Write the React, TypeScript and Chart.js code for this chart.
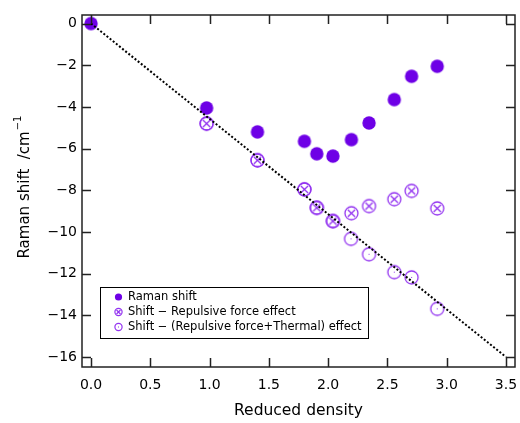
import React, { useEffect, useRef } from "react";
import { Chart, registerables } from "chart.js";

Chart.register(...registerables);

// ---- data ----
const ramanDensity = [0, 0.975, 1.404, 1.8, 1.904, 2.04, 2.196, 2.345, 2.558, 2.704, 2.92];
const ramanShift = [0, -4.05, -5.2, -5.65, -6.25, -6.36, -5.57, -4.77, -3.65, -2.53, -2.05];

const repulsiveDensity = [0.975, 1.404, 1.8, 1.904, 2.04, 2.196, 2.345, 2.558, 2.704, 2.92];
const repulsiveShift = [-4.8, -6.56, -7.96, -8.84, -9.48, -9.1, -8.76, -8.43, -8.03, -8.87];

const thermalDensity = [0.975, 1.404, 1.8, 1.904, 2.04, 2.193, 2.345, 2.558, 2.704, 2.92];
const thermalShift = [-4.8, -6.56, -7.96, -8.84, -9.48, -10.33, -11.07, -11.93, -12.18, -13.69];

const fitDensity = [0, 3.5];
const fitShift = [0, -16];

const xTickValues = [0, 0.5, 1, 1.5, 2, 2.5, 3, 3.5];
const yTickValues = [0, -2, -4, -6, -8, -10, -12, -14, -16];

const legendLabels = [
  "Raman shift",
  "Shift \u2212 Repulsive force effect",
  "Shift \u2212 (Repulsive force+Thermal) effect",
];
const xTitle = "Reduced density";
const yTitleMain = "Raman shift  /cm";
const yTitleSup = "\u22121";

const FILL = "#6e00e6";
const OPEN = "#9333f0";
const FONT = "'DejaVu Sans', sans-serif";

function drawMarker(ctx: CanvasRenderingContext2D, kind: string, cx: number, cy: number, r: number) {
  ctx.save();
  if (kind === "filled") {
    ctx.fillStyle = FILL;
    ctx.beginPath();
    ctx.arc(cx, cy, r, 0, Math.PI * 2);
    ctx.fill();
  } else {
    ctx.strokeStyle = OPEN;
    ctx.lineWidth = r > 5 ? 1.3 : 1.2;
    ctx.beginPath();
    ctx.arc(cx, cy, r, 0, Math.PI * 2);
    ctx.stroke();
    if (kind === "cross") {
      const d = r * 0.55;
      ctx.beginPath();
      ctx.moveTo(cx - d, cy - d);
      ctx.lineTo(cx + d, cy + d);
      ctx.moveTo(cx + d, cy - d);
      ctx.lineTo(cx - d, cy + d);
      ctx.stroke();
    } else {
      ctx.fillStyle = OPEN;
      ctx.fillRect(cx - 0.5, cy - 0.5, 1, 1);
    }
  }
  ctx.restore();
}

function makeMarker(kind: string, r: number): HTMLCanvasElement {
  const size = Math.ceil(2 * r + 4);
  const c = document.createElement("canvas");
  c.width = size;
  c.height = size;
  const ctx = c.getContext("2d")!;
  drawMarker(ctx, kind, size / 2, size / 2, r);
  return c;
}

const framePlugin = {
  id: "frameAndExtras",
  afterDraw(chart: any) {
    const { ctx, chartArea: ca, scales } = chart;
    const xs = scales.x;
    const ys = scales.y;
    ctx.save();
    ctx.strokeStyle = "#222";
    ctx.lineWidth = 1.5;
    ctx.strokeRect(ca.left, ca.top, ca.right - ca.left, ca.bottom - ca.top);
    const tl = 9;
    ctx.beginPath();
    xTickValues.forEach((v) => {
      const px = Math.round(xs.getPixelForValue(v)) + 0.5;
      ctx.moveTo(px, ca.bottom);
      ctx.lineTo(px, ca.bottom - tl);
      ctx.moveTo(px, ca.top);
      ctx.lineTo(px, ca.top + tl);
    });
    yTickValues.forEach((v) => {
      const py = Math.round(ys.getPixelForValue(v)) + 0.5;
      ctx.moveTo(ca.left, py);
      ctx.lineTo(ca.left + tl, py);
      ctx.moveTo(ca.right, py);
      ctx.lineTo(ca.right - tl, py);
    });
    ctx.stroke();

    // y title with superscript
    ctx.fillStyle = "#000";
    ctx.font = `15px ${FONT}`;
    const mainW = ctx.measureText(yTitleMain).width;
    ctx.font = `10px ${FONT}`;
    const supW = ctx.measureText(yTitleSup).width;
    const total = mainW + supW + 1;
    ctx.translate(25, 187);
    ctx.rotate(-Math.PI / 2);
    ctx.textBaseline = "middle";
    ctx.textAlign = "left";
    ctx.font = `15px ${FONT}`;
    ctx.fillText(yTitleMain, -total / 2, 0);
    ctx.font = `10px ${FONT}`;
    ctx.fillText(yTitleSup, -total / 2 + mainW + 1, -7);
    ctx.restore();

    // legend
    ctx.save();
    const lx = ca.left + 18;
    const ly = ca.bottom - 80;
    const lw = 268;
    const lh = 51;
    ctx.fillStyle = "#fff";
    ctx.fillRect(lx, ly, lw, lh);
    ctx.strokeStyle = "#000";
    ctx.lineWidth = 1;
    ctx.strokeRect(lx + 0.5, ly + 0.5, lw, lh);
    const kinds = ["filled", "cross", "open"];
    ctx.font = `11.5px ${FONT}`;
    ctx.fillStyle = "#000";
    ctx.textBaseline = "middle";
    ctx.textAlign = "left";
    legendLabels.forEach((lab, i) => {
      const cy = ly + 10 + i * 15;
      drawMarker(ctx, kinds[i], lx + 18.5, cy, 3.6);
      ctx.fillStyle = "#000";
      ctx.fillText(lab, lx + 28, cy);
    });
    ctx.restore();
  },
};

export default function App() {
  const ref = useRef<HTMLCanvasElement | null>(null);
  useEffect(() => {
    document.body.style.margin = "0";
    const canvas = ref.current!;
    const filledImg = makeMarker("filled", 6.7);
    const crossImg = makeMarker("cross", 6.5);
    const openImg = makeMarker("open", 6.5);
    const toPts = (xs: number[], ys: number[]) => xs.map((x, i) => ({ x, y: ys[i] }));
    const chart = new Chart(canvas, {
      type: "scatter",
      data: {
        datasets: [
          {
            type: "line",
            label: "fit",
            data: toPts(fitDensity, fitShift),
            borderColor: "#000",
            borderWidth: 2,
            borderDash: [2, 2],
            pointRadius: 0,
            fill: false,
            order: 0,
          } as any,
          {
            label: legendLabels[2],
            data: toPts(thermalDensity, thermalShift),
            pointStyle: openImg,
            order: 3,
          },
          {
            label: legendLabels[1],
            data: toPts(repulsiveDensity, repulsiveShift),
            pointStyle: crossImg,
            order: 2,
          },
          {
            label: legendLabels[0],
            data: toPts(ramanDensity, ramanShift),
            pointStyle: filledImg,
            order: 1,
          },
        ],
      },
      options: {
        animation: false,
        responsive: false,
        layout: { padding: { top: 15, right: 4, left: 0, bottom: 0 } },
        plugins: { legend: { display: false }, tooltip: { enabled: false } },
        scales: {
          x: {
            type: "linear",
            min: -0.076,
            max: 3.576,
            afterBuildTicks: (s: any) => {
              s.ticks = xTickValues.map((v) => ({ value: v }));
            },
            afterFit: (s: any) => {
              s.height = 56;
              s.paddingLeft = 0;
              s.paddingRight = 0;
            },
            grid: { display: false, drawTicks: false },
            border: { display: false },
            ticks: {
              color: "#000",
              font: { family: FONT, size: 14 },
              padding: 10,
              maxRotation: 0,
              autoSkip: false,
              callback: (v: any) => Number(v).toFixed(1),
            },
            title: {
              display: true,
              text: xTitle,
              color: "#000",
              font: { family: FONT, size: 15.5 },
              padding: { top: 0, bottom: 3 },
            },
          },
          y: {
            type: "linear",
            min: -16.48,
            max: 0.41,
            afterBuildTicks: (s: any) => {
              s.ticks = yTickValues.map((v) => ({ value: v }));
            },
            afterFit: (s: any) => {
              s.width = 82;
              s.paddingTop = 0;
              s.paddingBottom = 0;
            },
            grid: { display: false, drawTicks: false },
            border: { display: false },
            ticks: {
              color: "#000",
              font: { family: FONT, size: 14 },
              padding: 5,
              autoSkip: false,
              callback: (v: any) => (Number(v) < 0 ? "\u2212" + Math.abs(Number(v)) : String(v)),
            },
          },
        },
      },
      plugins: [framePlugin],
    });
    return () => chart.destroy();
  }, []);
  return (
    <div style={{ width: 520, height: 423 }}>
      <canvas ref={ref} width={520} height={423} style={{ display: "block" }} />
    </div>
  );
}
